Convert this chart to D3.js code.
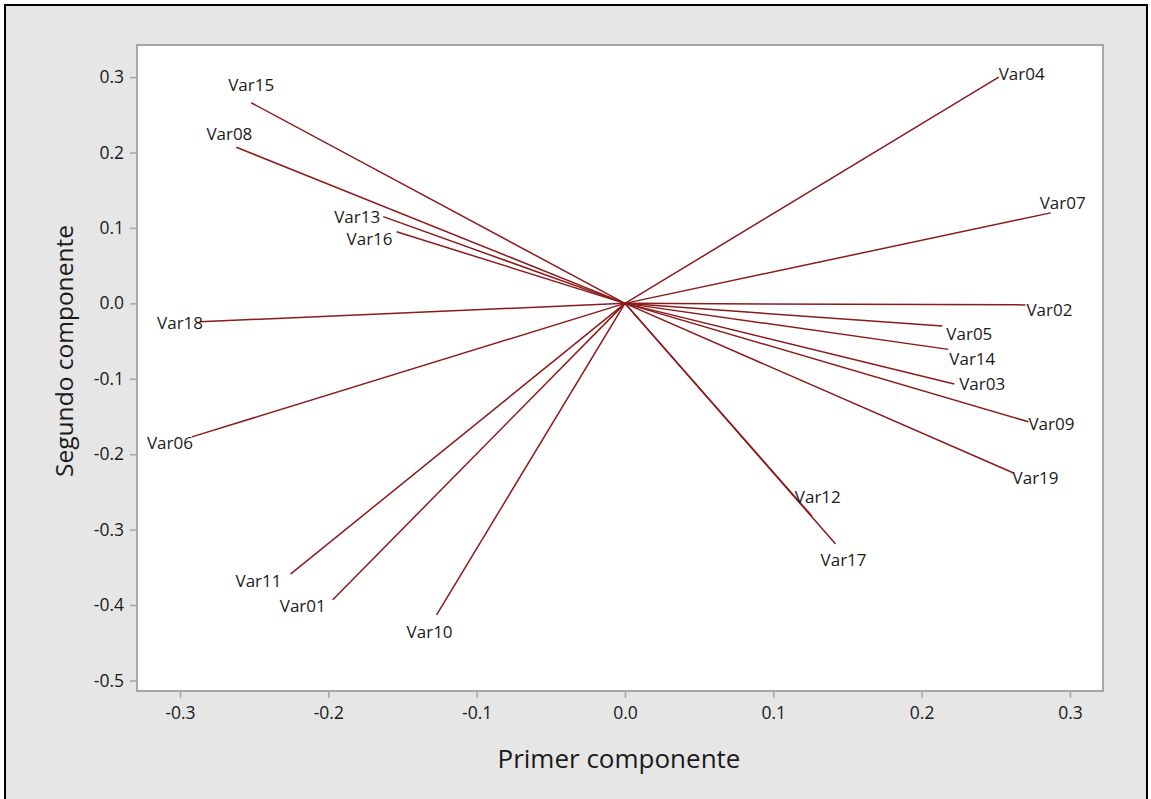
<!DOCTYPE html>
<html>
<head>
<meta charset="utf-8">
<script src="https://cdn.jsdelivr.net/npm/d3@7"></script>
<style>
  html, body { margin: 0; padding: 0; background: #ffffff; }
  svg { display: block; }
  text { font-family: "Open Sans", "Noto Sans", sans-serif; fill: #1a1a1a; }
</style>
</head>
<body>
<svg id="chart" width="1151" height="799"></svg>
<script>
// ---- data ----
const variables = ["Var04","Var07","Var02","Var05","Var14","Var03","Var09","Var19","Var12","Var17",
                   "Var10","Var01","Var11","Var06","Var18","Var16","Var13","Var08","Var15"];
const pc1 = [0.252, 0.287, 0.270, 0.214, 0.218, 0.222, 0.272, 0.262, 0.126, 0.142,
             -0.127, -0.197, -0.2255, -0.292, -0.2865, -0.154, -0.163, -0.262, -0.252];
const pc2 = [0.300, 0.120, -0.002, -0.030, -0.061, -0.107, -0.157, -0.225, -0.282, -0.319,
             -0.413, -0.393, -0.359, -0.177, -0.0244, 0.095, 0.115, 0.207, 0.266];
const xTicks = [-0.3, -0.2, -0.1, 0.0, 0.1, 0.2, 0.3];
const yTicks = [0.3, 0.2, 0.1, 0.0, -0.1, -0.2, -0.3, -0.4, -0.5];
const xTitle = "Primer componente";
const yTitle = "Segundo componente";

// ---- layout (label nudges in pixels, relative to vector tip) ----
const labelNudge = {
  Var04:[0,-4], Var07:[-11,-10], Var02:[1,5], Var05:[4,8], Var14:[1,9], Var03:[5,-1],
  Var09:[0,2], Var19:[-1,4], Var12:[-17,-20], Var17:[-15,16],
  Var10:[16,17], Var01:[-7,6], Var11:[-9,6], Var06:[1,6], Var18:[3,1],
  Var16:[-4,7], Var13:[-3,0], Var08:[16,-14], Var15:[23,-18]
};

const svg = d3.select("#chart");
const plot = {left: 137, top: 45, right: 1103, bottom: 691};
const fmt = d => d.toFixed(1);  // hyphen-minus as in the original

// outer frame
svg.append("rect").attr("x", 5).attr("y", 5).attr("width", 1142).attr("height", 800)
  .attr("fill", "#e6e6e6").attr("stroke", "#000").attr("stroke-width", 2);

const x = d3.scaleLinear().domain([-0.329, 0.3223]).range([plot.left, plot.right]);
const y = d3.scaleLinear().domain([-0.514, 0.3426]).range([plot.bottom, plot.top]);

// plot area
svg.append("rect").attr("x", plot.left).attr("y", plot.top)
  .attr("width", plot.right - plot.left).attr("height", plot.bottom - plot.top)
  .attr("fill", "#fff").attr("stroke", "#a6a6a6").attr("stroke-width", 2);

// axes
const xAxis = svg.append("g").attr("transform", `translate(0,${plot.bottom + 1})`)
  .call(d3.axisBottom(x).tickValues(xTicks).tickFormat(fmt).tickSize(6).tickPadding(9));
const yAxis = svg.append("g").attr("transform", `translate(${plot.left - 1},0)`)
  .call(d3.axisLeft(y).tickValues(yTicks).tickFormat(fmt).tickSize(6).tickPadding(6));
[xAxis, yAxis].forEach(g => {
  g.select(".domain").remove();
  g.selectAll(".tick line").attr("stroke", "#a6a6a6").attr("stroke-width", 1.5);
  g.selectAll(".tick text").attr("font-size", 17.5).attr("fill", "#1a1a1a")
    .style("font-family", '"Open Sans", "Noto Sans", sans-serif');
});

// titles
svg.append("text").attr("x", 619).attr("y", 758).attr("text-anchor", "middle")
  .attr("dominant-baseline", "central").attr("font-size", 26).text(xTitle);
svg.append("text").attr("transform", "translate(63,351) rotate(-90)").attr("text-anchor", "middle")
  .attr("dominant-baseline", "central").attr("font-size", 24.5).text(yTitle);

// vectors
const data = variables.map((v, i) => ({name: v, x: pc1[i], y: pc2[i]}));
svg.append("g").selectAll("line").data(data).join("line")
  .attr("x1", x(0)).attr("y1", y(0))
  .attr("x2", d => x(d.x)).attr("y2", d => y(d.y))
  .attr("stroke", "#8b1a1a").attr("stroke-width", 1.5);

svg.append("g").selectAll("text").data(data).join("text")
  .attr("x", d => x(d.x) + labelNudge[d.name][0])
  .attr("y", d => y(d.y) + labelNudge[d.name][1])
  .attr("text-anchor", d => d.x < 0 ? "end" : "start")
  .attr("dominant-baseline", "central")
  .attr("font-size", 17)
  .text(d => d.name);
</script>
</body>
</html>
